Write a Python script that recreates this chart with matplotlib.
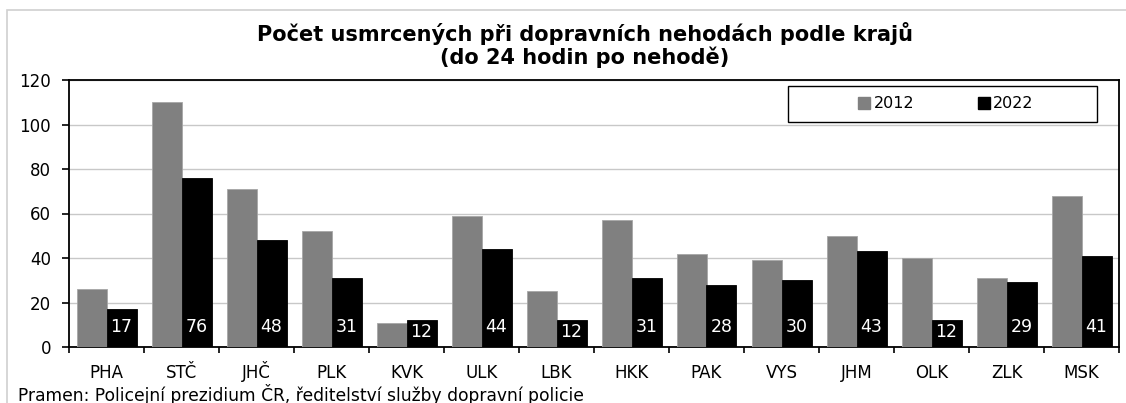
import matplotlib
matplotlib.use("Agg")
import matplotlib.pyplot as plt
from matplotlib.patches import Rectangle, Patch
import numpy as np

# data
regions = ["PHA", "STČ", "JHČ", "PLK", "KVK", "ULK", "LBK",
           "HKK", "PAK", "VYS", "JHM", "OLK", "ZLK", "MSK"]
deaths_2012 = [26, 110, 71, 52, 11, 59, 25, 57, 42, 39, 50, 40, 31, 68]
deaths_2022 = [17, 76, 48, 31, 12, 44, 12, 31, 28, 30, 43, 12, 29, 41]
years = ["2012", "2022"]
yticks = [0, 20, 40, 60, 80, 100, 120]

title = "Počet usmrcených při dopravních nehodách podle krajů\n(do 24 hodin po nehodě)"
source = "Pramen: Policejní prezidium ČR, ředitelství služby dopravní policie"

W, H = 1126, 403
plt.rcParams['font.family'] = ['DejaVu Sans']


def fx(px):
    return px / W


def fy(py):
    return 1 - py / H


fig = plt.figure(figsize=(W / 100, H / 100), dpi=100)

# outer light-grey chart border
fig.patches.append(Rectangle((fx(7), fy(430)), fx(1160) - fx(7), fy(10) - fy(430),
                             transform=fig.transFigure, fill=False,
                             edgecolor="#d0d0d0", linewidth=1.2))

ax = fig.add_axes([fx(69), fy(347), fx(1119) - fx(69), fy(80) - fy(347)])

x = np.arange(len(regions))
ax.bar(x - 0.2, deaths_2012, width=0.4, color="#808080", edgecolor="#a6a6a6",
       linewidth=0.6, zorder=3)
ax.bar(x + 0.2, deaths_2022, width=0.4, color="#000000", edgecolor="#000000",
       linewidth=0.6, zorder=3)

# white value labels near the base of the 2022 bars
for xi, v in zip(x, deaths_2022):
    ax.text(xi + 0.2, min(9, v * 0.55), str(v), color="white", ha="center",
            va="center", fontsize=12.5, zorder=4)

ax.set_xlim(-0.5, len(regions) - 0.5)
ax.set_ylim(0, 120)
ax.set_yticks(yticks)
ax.tick_params(axis="y", labelsize=12, length=5, width=1.2, pad=8)
ax.yaxis.grid(True, color="#c8c8c8", linewidth=1.0, zorder=0)
ax.set_axisbelow(True)

ax.set_xticks(x)
ax.set_xticklabels(regions, va="baseline")
ax.set_xticks(np.arange(len(regions) + 1) - 0.5, minor=True)
ax.tick_params(axis="x", which="major", length=0, labelsize=12, pad=22)
ax.tick_params(axis="x", which="minor", length=4, width=1.2)

for s in ax.spines.values():
    s.set_color("black")
    s.set_linewidth(1.3)

# legend box
fig.patches.append(Rectangle((fx(788), fy(122)), fx(1097) - fx(788), fy(86) - fy(122),
                             transform=fig.transFigure, facecolor="white",
                             edgecolor="black", linewidth=1.0, zorder=5))
handles = [Patch(facecolor="#808080", edgecolor="#808080"),
           Patch(facecolor="#000000", edgecolor="#000000")]
leg = fig.legend(handles, years, loc="center", bbox_to_anchor=(fx(946), fy(104)),
                 ncol=2, frameon=False, fontsize=11.5, handlelength=0.75,
                 handleheight=0.75, handletextpad=0.2, columnspacing=4.0)
leg.set_zorder(6)

fig.text(fx(585), fy(45), title, ha="center", va="center", fontsize=15,
         fontweight="bold", linespacing=1.1)
fig.text(fx(18), fy(401), source, ha="left", va="baseline", fontsize=12.3)

fig.savefig("out.png", dpi=100)
